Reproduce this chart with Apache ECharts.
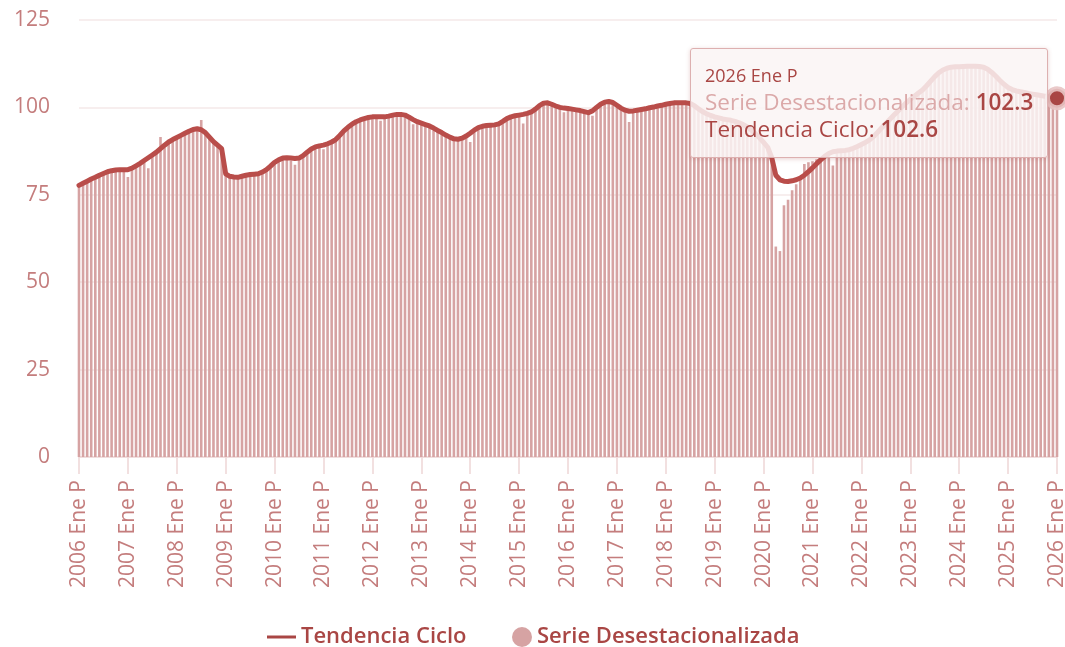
<!DOCTYPE html>
<html>
<head>
<meta charset="utf-8">
<script src="https://cdn.jsdelivr.net/npm/echarts@6/dist/echarts.min.js"></script>
<style>
    html, body { margin: 0; padding: 0; background: #fff; }
    #chart { width: 1065px; height: 647px; }
</style>
</head>
<body>
<div id="chart"></div>
<script>
// años y meses del eje (etiquetas tipo "2006 Ene P")
const anios = [2006, 2007, 2008, 2009, 2010, 2011, 2012, 2013, 2014, 2015, 2016,
    2017, 2018, 2019, 2020, 2021, 2022, 2023, 2024, 2025, 2026]
const meses = ['Ene', 'Feb', 'Mar', 'Abr', 'May', 'Jun', 'Jul', 'Ago', 'Sep', 'Oct', 'Nov', 'Dic']

// Tendencia Ciclo, un renglón por año
const tendencia = [
    77.7, 78.3, 78.9, 79.5, 80.0, 80.6, 81.1, 81.6, 81.9, 82.1, 82.2, 82.2,
    82.2, 82.6, 83.3, 84.0, 84.8, 85.6, 86.4, 87.2, 88.2, 89.2, 90.1, 90.8,
    91.4, 92.0, 92.6, 93.2, 93.7, 93.9, 93.6, 92.8, 91.5, 90.2, 89.2, 88.2,
    81.0, 80.3, 80.1, 80.0, 80.3, 80.6, 80.8, 80.9, 81.0, 81.5, 82.2, 83.2,
    84.3, 85.0, 85.5, 85.6, 85.5, 85.4, 85.5, 86.2, 87.2, 88.1, 88.7, 89.0,
    89.2, 89.6, 90.1, 90.8, 92.0, 93.3, 94.3, 95.2, 95.9, 96.4, 96.8, 97.1,
    97.3, 97.3, 97.3, 97.3, 97.5, 97.8, 98.0, 98.0, 97.8, 97.2, 96.5, 95.9,
    95.5, 95.1, 94.7, 94.1, 93.4, 92.8, 92.1, 91.5, 91.0, 90.9, 91.2, 91.8,
    92.6, 93.5, 94.2, 94.6, 94.8, 94.9, 95.0, 95.3, 96.0, 96.8, 97.3, 97.6,
    97.8, 98.0, 98.3, 98.7, 99.5, 100.5, 101.2, 101.3, 100.9, 100.4, 100.0, 99.8,
    99.7, 99.5, 99.3, 99.1, 98.8, 98.5, 99.0, 100.0, 100.9, 101.5, 101.7, 101.4,
    100.6, 99.8, 99.2, 98.9, 99.0, 99.2, 99.4, 99.6, 99.9, 100.1, 100.4, 100.6,
    100.9, 101.1, 101.3, 101.3, 101.3, 101.3, 101.1, 100.5, 99.6, 98.8, 98.2, 97.7,
    97.3, 97.0, 96.7, 96.5, 96.3, 96.0, 95.6, 95.1, 94.4, 93.5, 92.5, 91.3,
    90.0, 88.6, 85.6, 80.6, 79.3, 78.9, 78.8, 79.0, 79.3, 79.8, 80.6, 81.6,
    82.7, 83.9, 85.0, 86.0, 86.8, 87.3, 87.5, 87.6, 87.7, 87.9, 88.3, 88.8,
    89.4, 90.0, 90.7, 91.7, 92.9, 94.2, 95.4, 96.6, 97.8, 99.0, 100.2, 101.3,
    102.3, 103.2, 104.1, 105.0, 106.2, 107.5, 108.8, 109.9, 110.7, 111.2, 111.5, 111.6,
    111.6, 111.7, 111.8, 111.8, 111.8, 111.7, 111.5, 110.9, 110.0, 108.9, 107.7, 106.6,
    105.7, 105.1, 104.7, 104.5, 104.3, 104.0, 103.8, 103.6, 103.4, 103.2, 103.0, 102.8,
    102.6
]

// Serie Desestacionalizada
const desestacionalizada = [
    77.2, 78.0, 78.6, 79.3, 79.8, 80.3, 80.9, 81.3, 81.7, 81.9, 81.8, 81.9,
    80.1, 82.3, 83.0, 83.7, 84.5, 82.6, 86.0, 86.8, 91.5, 88.6, 89.8, 90.6,
    91.1, 91.8, 92.3, 92.8, 93.4, 93.6, 96.4, 92.4, 91.2, 90.0, 88.8, 88.0,
    80.5, 79.9, 79.7, 79.7, 80.0, 80.3, 80.5, 80.6, 80.7, 81.2, 81.9, 82.7,
    83.9, 84.6, 85.1, 85.2, 84.8, 83.6, 85.0, 85.8, 86.7, 87.6, 88.3, 88.6,
    88.0, 89.2, 89.7, 90.3, 91.6, 92.9, 93.9, 95.0, 95.5, 96.0, 96.4, 96.8,
    97.0, 96.9, 96.2, 97.0, 97.1, 97.5, 97.6, 97.5, 97.4, 96.8, 95.2, 95.6,
    95.1, 94.7, 94.2, 93.4, 93.0, 92.3, 91.7, 91.1, 90.6, 90.5, 90.7, 91.3,
    90.1, 93.1, 93.8, 94.2, 94.4, 94.5, 94.6, 94.9, 95.5, 96.3, 96.9, 97.2,
    97.4, 95.4, 97.9, 98.3, 99.0, 100.1, 100.8, 100.9, 100.5, 99.9, 99.6, 98.6,
    99.3, 99.1, 98.9, 98.7, 98.5, 98.3, 97.6, 99.6, 100.5, 101.1, 101.3, 100.9,
    100.2, 99.4, 98.8, 95.8, 98.6, 98.8, 99.0, 99.2, 99.5, 99.7, 100.0, 100.2,
    100.5, 100.7, 100.9, 100.9, 100.8, 100.9, 100.7, 100.1, 99.2, 98.4, 97.8, 97.3,
    96.9, 96.6, 96.3, 96.1, 95.9, 95.6, 95.2, 94.7, 94.0, 93.1, 92.1, 90.9,
    89.6, 88.2, 85.0, 60.2, 58.9, 72.0, 73.6, 76.3, 78.0, 80.1, 83.8, 84.3,
    84.6, 85.2, 85.5, 86.0, 86.4, 83.4, 87.0, 87.2, 87.3, 87.5, 87.9, 88.4,
    89.0, 89.6, 90.3, 91.3, 92.5, 93.8, 95.0, 96.2, 97.4, 98.6, 99.8, 100.9,
    101.9, 102.8, 103.7, 104.6, 105.8, 107.1, 108.4, 109.5, 110.3, 110.8, 111.1, 111.2,
    111.2, 111.3, 111.4, 111.4, 111.4, 111.3, 111.1, 110.5, 109.6, 108.5, 107.3, 106.2,
    105.3, 104.7, 104.3, 104.1, 103.9, 103.6, 103.4, 103.2, 103.0, 102.8, 102.6, 102.4,
    102.3
]

const yMin = 0
const yMax = 125
const yInterval = 25

const categorias = []
anios.forEach((a) => {
    meses.forEach((m) => {
        if (categorias.length < tendencia.length) categorias.push(`${a} ${m} P`)
    })
})

const FONT = '"Open Sans", sans-serif'
const ROJO = '#a94644'
const ROSA = '#d6a3a3'
const ETIQUETA = '#c47d7d'

const myChart = echarts.init(document.getElementById('chart'), null, {renderer: 'canvas'})
myChart.setOption({
    animation: false,
    textStyle: {fontFamily: FONT},
    grid: {
        left: 79,
        right: 8,
        top: 20,
        bottom: 190,
        containLabel: false,
        outerBoundsMode: 'none',
    },
    legend: [
        {
            data: [{name: 'Tendencia Ciclo', icon: 'rect', itemStyle: {color: ROJO, borderWidth: 0}}],
            left: 262,
            top: 621,
            itemWidth: 29,
            itemHeight: 3,
            itemGap: 10,
            textStyle: {color: ROJO, fontSize: 22, fontWeight: 600, fontFamily: FONT},
        },
        {
            data: [{name: 'Serie Desestacionalizada', icon: 'circle', itemStyle: {color: ROSA, borderWidth: 0}}],
            left: 507,
            top: 621,
            itemWidth: 20,
            itemHeight: 20,
            textStyle: {color: ROJO, fontSize: 22, fontWeight: 600, fontFamily: FONT},
        },
    ],
    tooltip: {
        trigger: 'axis',
        alwaysShowContent: true,
        position: [690, 48],
        transitionDuration: 0,
        backgroundColor: 'rgba(250,245,245,0.85)',
        borderColor: '#ddb0b0',
        borderWidth: 1.5,
        padding: [13, 14, 15, 14],
        extraCssText: 'box-shadow: 0 1px 4px rgba(169,70,68,0.25); border-radius: 3px;',
        axisPointer: {type: 'none'},
        formatter(params) {
            const serie = params.find((p) => p.seriesName === 'Serie Desestacionalizada')
            const tend = params.find((p) => p.seriesName === 'Tendencia Ciclo')
            return `<div style="font-family:${FONT};">` +
                `<div style="font-size:18px;line-height:26px;color:${ROJO};">${params[0].axisValue}</div>` +
                `<div style="font-size:22.5px;line-height:27px;color:#dba9a9;">Serie Desestacionalizada: <span style="color:${ROJO};font-weight:600;">${serie.value.toFixed(1)}</span></div>` +
                `<div style="font-size:22.5px;line-height:27px;color:${ROJO};">Tendencia Ciclo: <span style="font-weight:600;">${tend.value.toFixed(1)}</span></div>` +
                `</div>`
        },
    },
    xAxis: {
        type: 'category',
        data: categorias,
        boundaryGap: false,
        axisLine: {lineStyle: {color: '#eed8d8', width: 1.5}},
        axisTick: {interval: 11, length: 17, lineStyle: {color: '#eed6d6', width: 1.5}},
        axisLabel: {
            interval: 11,
            rotate: 90,
            margin: 23,
            color: ETIQUETA,
            fontSize: 21,
            fontFamily: FONT,
        },
    },
    yAxis: {
        type: 'value',
        min: yMin,
        max: yMax,
        interval: yInterval,
        axisLine: {show: false},
        axisTick: {show: false},
        axisLabel: {color: ETIQUETA, fontSize: 21, margin: 29, fontFamily: FONT},
        splitLine: {lineStyle: {color: '#f5e9e9', width: 1.5}},
    },
    series: [
        {
            name: 'Serie Desestacionalizada',
            type: 'bar',
            data: desestacionalizada,
            barWidth: 2.6,
            itemStyle: {color: ROSA},
            emphasis: {disabled: true},
        },
        {
            name: 'Tendencia Ciclo',
            type: 'line',
            data: tendencia,
            showSymbol: false,
            symbol: 'circle',
            symbolSize: 19,
            itemStyle: {color: ROJO, borderColor: 'rgba(232,196,196,0.9)', borderWidth: 5},
            lineStyle: {color: ROJO, width: 5, cap: 'round', join: 'round'},
            emphasis: {scale: false, lineStyle: {width: 5}},
        },
    ],
})

myChart.dispatchAction({type: 'showTip', seriesIndex: 1, dataIndex: tendencia.length - 1})
</script>
</body>
</html>
